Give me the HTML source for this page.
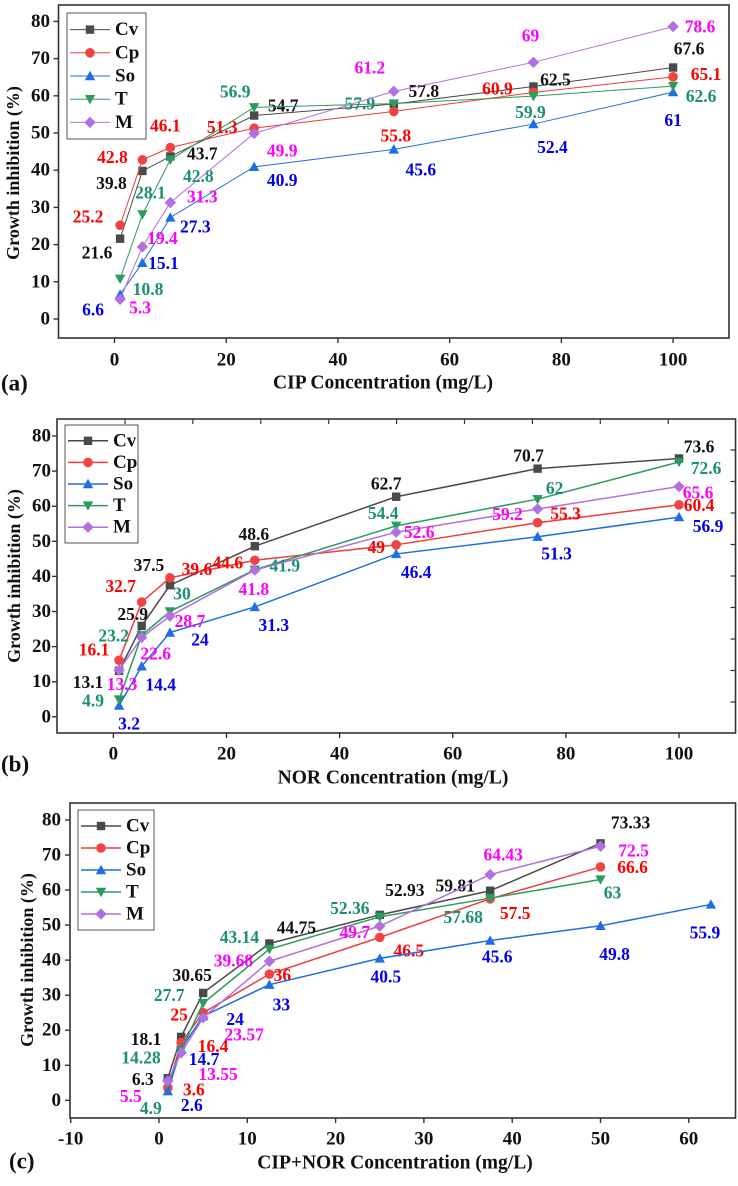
<!DOCTYPE html>
<html><head><meta charset="utf-8">
<style>
html,body{margin:0;padding:0;background:#fff;}
svg text{font-family:"Liberation Serif",serif;font-weight:bold;}
</style></head>
<body>
<svg id="fig" width="738" height="1181" viewBox="0 0 738 1181" xmlns="http://www.w3.org/2000/svg"></svg>
<script>
// ---- Data ----
const seriesNames = ["Cv","Cp","So","T","M"];
const xA = [1,5,10,25,50,75,100];
const aCv = [21.6,39.8,43.7,54.7,57.8,62.5,67.6];
const aCp = [25.2,42.8,46.1,51.3,55.8,60.9,65.1];
const aSo = [6.6,15.1,27.3,40.9,45.6,52.4,61];
const aT  = [10.8,28.1,42.8,56.9,57.9,59.9,62.6];
const aM  = [5.3,19.4,31.3,49.9,61.2,69,78.6];
const xB = [1,5,10,25,50,75,100];
const bCv = [13.1,25.9,37.5,48.6,62.7,70.7,73.6];
const bCp = [16.1,32.7,39.6,44.6,49,55.3,60.4];
const bSo = [3.2,14.4,24,31.3,46.4,51.3,56.9];
const bT  = [4.9,23.2,30,41.9,54.4,62,72.6];
const bM  = [13.3,22.6,28.7,41.8,52.6,59.2,65.6];
const xC = [1,2.5,5,12.5,25,37.5,50];
const xCSo = [1,2.5,5,12.5,25,37.5,50,62.5];
const cCv = [6.3,18.1,30.65,44.75,52.93,59.81,73.33];
const cCp = [3.6,16.4,25,36,46.5,57.5,66.6];
const cSo = [2.6,14.7,24,33,40.5,45.6,49.8,55.9];
const cT  = [4.9,14.28,27.7,43.14,52.36,57.68,63];
const cM  = [5.5,13.55,23.57,39.68,49.7,64.43,72.5];
const yTicks = [0,10,20,30,40,50,60,70,80];
const xTicksAB = [0,20,40,60,80,100];
const xTicksC = [-10,0,10,20,30,40,50,60];
// label offsets (styling only)
const offA = [
 [[-23,14],[-31,12],[32,-3],[29,-10],[30,-13],[22,-7],[16,-19]],
 [[-32,-9],[-30,-3],[-5,-22],[-32,-1],[2,24],[-36,-4],[33,-3]],
 [[-27,15],[21,0],[25,9],[28,13],[27,20],[19,23],[0,28]],
 [[28,10],[8,-22],[28,16],[-19,-16],[-34,0],[-3,16],[28,10]],
 [[20,8],[20,-9],[32,-6],[28,17],[-24,-24],[-3,-27],[27,0]]];
const offB = [
 [[-31,11],[-9,-12],[-21,-20],[-1,-12],[-10,-13],[-9,-13],[20,-12]],
 [[-25,-11],[-21,-16],[27,-9],[-27,2],[-20,2],[28,-9],[20,0]],
 [[10,18],[19,18],[30,7],[19,18],[20,18],[19,17],[29,9]],
 [[-26,1],[-28,0],[12,-18],[30,-4],[-13,-13],[17,-11],[27,6]],
 [[3,14],[14,16],[20,5],[-1,19],[23,0],[-30,5],[19,6]]];
const offC = [
 [[-25,1],[-35,2],[-11,-18],[27,-16],[25,-25],[-35,-5],[30,-21]],
 [[26,2],[32,3],[-24,2],[13,1],[29,13],[25,14],[32,0]],
 [[24,14],[23,10],[32,3],[12,20],[6,18],[7,16],[14,28],[-6,28]],
 [[-17,25],[-40,7],[-34,-8],[-30,-12],[-30,-9],[-27,19],[12,13]],
 [[-37,15],[37,21],[41,17],[-36,-1],[-25,6],[13,-20],[33,4]]];

const lineCol = ["#4a4a4a","#f03c3c","#1f6fe0","#2a9d5c","#b070e0"];
const markCol = ["#4a4a4a","#f04444","#1f6fe0","#2a9d5c","#b070e0"];
const labCol  = ["#111111","#ff0000","#0000ee","#1a9070","#ff00ff"];
const NS = "http://www.w3.org/2000/svg";
const svg = document.getElementById("fig");
function el(tag, attrs, parent){
  const e = document.createElementNS(NS, tag);
  for (const k in attrs) e.setAttribute(k, attrs[k]);
  (parent||svg).appendChild(e);
  return e;
}
function marker(g, kind, cx, cy, s, col){
  let m;
  if (kind===0) m = el("rect",{x:cx-s,y:cy-s,width:2*s,height:2*s,fill:col},g);
  else if (kind===1) m = el("circle",{cx:cx,cy:cy,r:s+0.6,fill:col},g);
  else if (kind===2) m = el("polygon",{points:`${cx},${cy-s-1} ${cx-s-1},${cy+s} ${cx+s+1},${cy+s}`,fill:col},g);
  else if (kind===3) m = el("polygon",{points:`${cx},${cy+s+1} ${cx-s-1},${cy-s} ${cx+s+1},${cy-s}`,fill:col},g);
  else m = el("polygon",{points:`${cx},${cy-s-1.5} ${cx+s+1.5},${cy} ${cx},${cy+s+1.5} ${cx-s-1.5},${cy}`,fill:col},g);
  return m;
}
function panel(p){
  const g = el("g",{});
  
  
  const X = v => p.x0 + p.sx*v, Y = v => p.y0 - p.sy*v;
  const fr = el("rect",{x:p.L,y:p.T,width:p.R-p.L,height:p.B-p.T,fill:"none",stroke:"#333",'stroke-width':1.6},g);
  
  
  yTicks.forEach(t=>{
    el("line",{x1:p.L-5,x2:p.L,y1:Y(t),y2:Y(t),stroke:"#333",'stroke-width':1.4},g);
    const tx = el("text",{x:p.ylx,y:Y(t),'text-anchor':"end",'dominant-baseline':"central",'font-size':19,fill:"#111"},g);
    tx.textContent = t;
    
    
  });
  p.xt.forEach(t=>{
    el("line",{x1:X(t),x2:X(t),y1:p.B,y2:p.B+5,stroke:"#333",'stroke-width':1.4},g);
    const tx = el("text",{x:X(t),y:p.xly,'text-anchor':"middle",'dominant-baseline':"central",'font-size':19,fill:"#111"},g);
    tx.textContent = t;
    
    
  });
  if (p.extraTicks){
    for (let i=0;i<9;i++){ const x=125+67.9*i; el("line",{x1:x,x2:x,y1:p.T,y2:p.T+5,stroke:"#333",'stroke-width':1.2},g); }
    for (let i=0;i<9;i++){ const y=450+31.5*i; el("line",{x1:p.R-5,x2:p.R,y1:y,y2:y,stroke:"#333",'stroke-width':1.2},g); }
  }
  const yt = el("text",{x:p.ytx,y:p.yty,'text-anchor':"middle",'dominant-baseline':"central",'font-size':18,fill:"#111",transform:`rotate(-90 ${p.ytx} ${p.yty})`},g);
  yt.textContent = "Growth inhibition (%)";
  
  
  const xt = el("text",{x:p.xtx,y:p.xty,'text-anchor':"middle",'dominant-baseline':"central",'font-size':19.5,fill:"#111"},g);
  xt.textContent = p.xtitle;
  
  
  const pl = el("text",{x:p.plx,y:p.ply,'dominant-baseline':"central",'font-size':23,fill:"#111"},g);
  pl.textContent = p.plabel;
  
  
  p.series.forEach((ys,si)=>{
    const xs = p.xs[si];
    const sg = el("g",{},g);
    
    
    const pts = ys.map((v,i)=>X(xs[i])+","+Y(v)).join(" ");
    el("polyline",{points:pts,fill:"none",stroke:lineCol[si],'stroke-width':p.lw},sg);
    ys.forEach((v,i)=>{
      const m = marker(sg, si, X(xs[i]), Y(v), 4.2, markCol[si]);
      
      
      const o = p.off[si][i] || [0,-15];
      const lt = el("text",{x:X(xs[i])+o[0],y:Y(v)+o[1],'text-anchor':"middle",'dominant-baseline':"central",'font-size':17.5,fill:labCol[si]},sg);
      lt.textContent = v;
      
      
    });
  });
  const lg = el("g",{},g);
  
  
  el("rect",{x:p.lgx,y:p.lgy,width:p.lgw,height:p.lgh,fill:"#fff",stroke:"#555",'stroke-width':1},lg);
  const step = (p.lgh-10)/5;
  seriesNames.forEach((n,si)=>{
    const cy = p.lgy+5+step*(si+0.5);
    const e = el("g",{},lg);
    
    
    el("line",{x1:p.lgx+3,x2:p.lgx+43,y1:cy,y2:cy,stroke:lineCol[si],'stroke-width':p.lw},e);
    marker(e, si, p.lgx+23, cy, 4.2, markCol[si]);
    const t = el("text",{x:p.lgx+48,y:cy,'dominant-baseline':"central",'font-size':19,fill:"#111"},e);
    t.textContent = n;
  });
}
panel({name:"panel-a",L:58.5,R:729,T:5,B:338,x0:114.5,sx:5.586,y0:319,sy:3.72,
  xt:xTicksAB,ylx:50,xly:360,ytx:13,yty:173,xtitle:"CIP Concentration (mg/L)",xtx:383,xty:383,
  plabel:"(a)",plx:1,ply:383,lw:1,xs:[xA,xA,xA,xA,xA],series:[aCv,aCp,aSo,aT,aM],off:offA,
  lgx:67,lgy:13,lgw:79,lgh:126});
panel({name:"panel-b",L:57,R:735.5,T:419,B:733,x0:113.4,sx:5.656,y0:716.8,sy:3.51,
  xt:xTicksAB,ylx:51,xly:754,ytx:14,yty:576,xtitle:"NOR Concentration (mg/L)",xtx:393,xty:778,
  plabel:"(b)",plx:1,ply:764,lw:1.5,xs:[xB,xB,xB,xB,xB],series:[bCv,bCp,bSo,bT,bM],off:offB,
  lgx:65,lgy:425,lgw:73,lgh:118,extraTicks:true});
panel({name:"panel-c",L:70,R:735.5,T:803,B:1118,x0:159,sx:8.83,y0:1100.3,sy:3.504,
  xt:xTicksC,ylx:61,xly:1139,ytx:27,yty:960,xtitle:"CIP+NOR Concentration (mg/L)",xtx:395,xty:1163,
  plabel:"(c)",plx:9,ply:1161,lw:1.5,xs:[xC,xC,xCSo,xC,xC],series:[cCv,cCp,cSo,cT,cM],off:offC,
  lgx:78,lgy:810,lgw:76,lgh:120});
</script>
</body></html>
